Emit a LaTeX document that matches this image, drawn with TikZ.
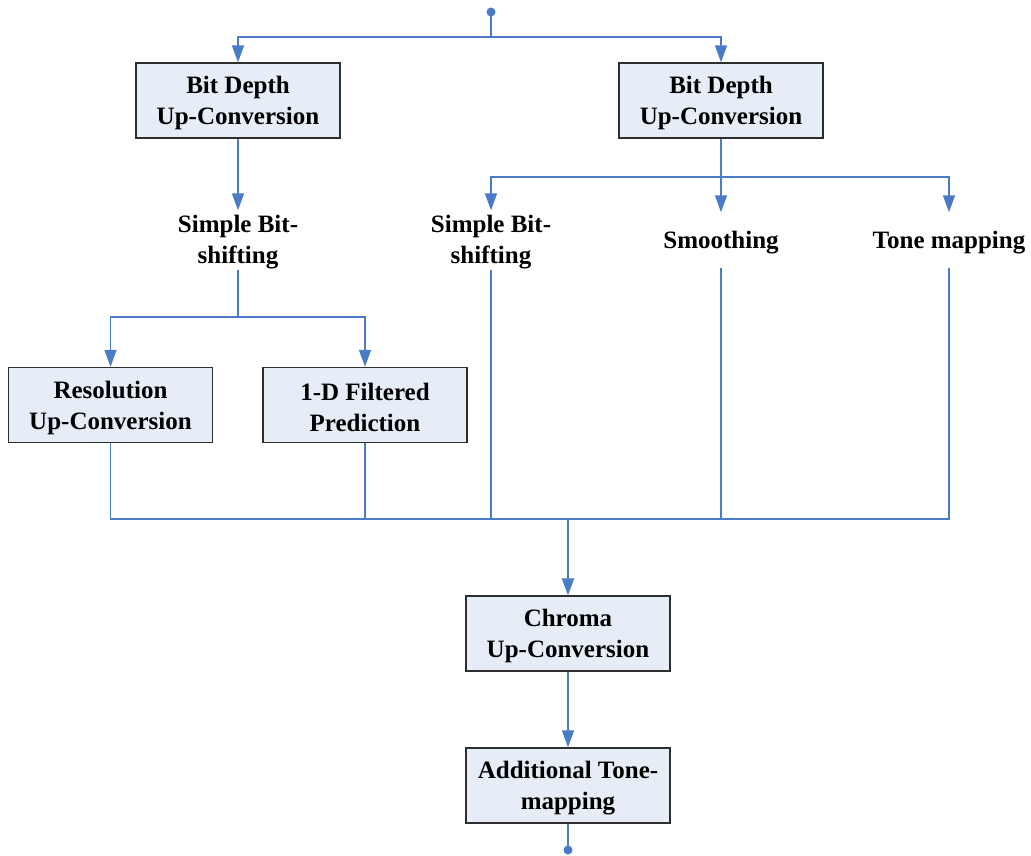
\documentclass[tikz,border=0pt]{standalone}
\usepackage{fontspec}
\setmainfont{Liberation Serif}
\usetikzlibrary{arrows.meta}
\definecolor{flow}{HTML}{4A7BC6}
\definecolor{boxfill}{HTML}{E7EDF7}
\definecolor{boxline}{HTML}{2E2E2E}
% taller first line, so the text block sits a little lower in its node
\newcommand{\toplift}{\rule{0pt}{\dimexpr\fontcharht\font`h+6pt\relax}}
\begin{document}
\begin{tikzpicture}[x=1pt,y=-1pt,
  every node/.style={font=\bfseries\fontsize{25}{31}\selectfont, align=center},
  stage/.style={draw=boxline, fill=boxfill, line width=1.3pt,
    minimum width=204pt, minimum height=75pt, inner sep=0pt},
  method/.style={minimum height=55pt, inner sep=0pt},
  link/.style={draw=flow, line width=1.4pt},
  feed/.style={link, -{Triangle[length=17pt,width=12pt]}},
  dotmark/.style={circle, fill=flow, inner sep=0pt, minimum size=9pt}]
\useasboundingbox (0,0) rectangle (1031,856);

% processing stages
\node[stage] (bd1) at (238,100.5) {\toplift Bit Depth\\Up-Conversion};
\node[stage] (bd2) at (721,100.5) {\toplift Bit Depth\\Up-Conversion};
\node[stage] (res) at (110.5,405) {\toplift Resolution\\Up-Conversion};
\node[stage] (filt) at (365,405) {\toplift 1-D Filtered\\Prediction};
\node[stage] (chroma) at (568,633.5) {\toplift Chroma\\Up-Conversion};
\node[stage] (tone) at (568,785.5) {\toplift Additional Tone-\\mapping};

% methods
\node[method] (sb1) at (238,240) {\toplift Simple Bit-\\shifting};
\node[method] (sb2) at (491,240) {\toplift Simple Bit-\\shifting};
\node[method] (smooth) at (721,240) {\toplift Smoothing};
\node[method] (tmap) at (949,240) {\toplift Tone mapping};

% input and output terminals
\node[dotmark] (in) at (491,12) {};
\node[dotmark] (out) at (568,850) {};

% branch and join points
\coordinate (split1) at (491,37);
\coordinate (split2) at (238,317);
\coordinate (split3) at (721,177);
\coordinate (join) at (568,519);

% input fan-out
\draw[link] (in.center) -- (split1);
\draw[feed] (split1) -| (bd1.north);
\draw[feed] (split1) -| (bd2.north);

% left branch
\draw[feed] (bd1.south) -- (sb1.north);
\draw[link] (sb1.south) -- (split2);
\draw[feed] (split2) -| (res.north);
\draw[feed] (split2) -| (filt.north);

% right branch
\draw[link] (bd2.south) -- (split3);
\draw[feed] (split3) -| (sb2.north);
\draw[feed] (split3) -- (smooth.north);
\draw[feed] (split3) -| (tmap.north);

% merge into chroma stage
\draw[link] (res.south) |- (join);
\draw[link] (filt.south) |- (join);
\draw[link] (sb2.south) |- (join);
\draw[link] (smooth.south) |- (join);
\draw[link] (tmap.south) |- (join);
\draw[feed, line width=2pt] (join) -- (chroma.north);

% output chain
\draw[feed] (chroma.south) -- (tone.north);
\draw[link] (tone.south) -- (out.center);
\end{tikzpicture}
\end{document}
